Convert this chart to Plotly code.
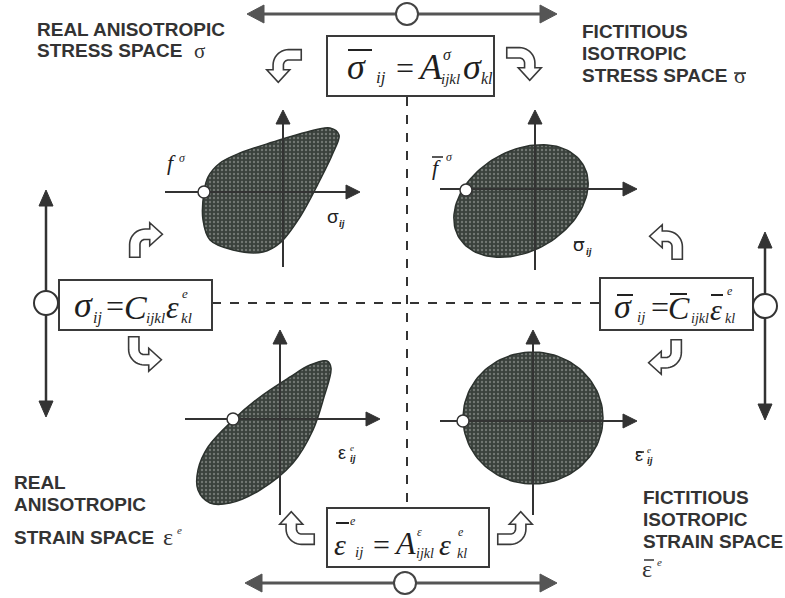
import numpy as np
import plotly.graph_objects as go

W, H = 785, 598

# ---------------- content ----------------
title_tl = ["REAL ANISOTROPIC", "STRESS SPACE"]
title_tr = ["FICTITIOUS", "ISOTROPIC", "STRESS SPACE"]
title_bl = ["REAL", "ANISOTROPIC", "STRAIN SPACE"]
title_br = ["FICTITIOUS", "ISOTROPIC", "STRAIN SPACE"]

# yield-surface outlines
blob_tl_x = [204, 208, 220, 240, 273, 307, 330, 339, 333, 320, 300, 280, 263, 233, 210, 203, 204]
blob_tl_y = [192, 177, 163, 153, 142, 132, 128, 135, 153, 180, 217, 243, 252, 250, 240, 220, 192]
blob_bl_x = [327, 331, 324, 313, 293, 260, 230, 210, 198, 198, 208, 233, 260, 290, 310, 327]
blob_bl_y = [361, 368, 397, 430, 463, 490, 503, 503, 490, 470, 447, 420, 397, 377, 365, 361]
ellipse_tr = dict(cx=521, cy=201, a=72, b=50, angle=30)
ellipse_br = dict(cx=533, cy=418, a=70, b=66, angle=0)

LINE = "#333333"
GRAY = "#555555"
SERIF = "Liberation Serif"
SANS = "Liberation Sans"

fig = go.Figure()
shapes = []
annos = []


def poly_path(pts):
    return "M " + " L ".join(f"{x:.2f},{y:.2f}" for x, y in pts) + " Z"


def tri(tip, direction, length, half, color):
    tx, ty = tip
    dx, dy = direction
    n = np.hypot(dx, dy)
    dx, dy = dx / n, dy / n
    bx, by = tx - dx * length, ty - dy * length
    px, py = -dy, dx
    pts = [(tx, ty), (bx + px * half, by + py * half), (bx - px * half, by - py * half)]
    shapes.append(dict(type="path", path=poly_path(pts), fillcolor=color,
                       line=dict(color=color, width=1), layer="above"))


def line(x0, y0, x1, y1, color=LINE, width=2, dash=None):
    d = dict(type="line", x0=x0, y0=y0, x1=x1, y1=y1,
             line=dict(color=color, width=width), layer="above")
    if dash:
        d["line"]["dash"] = dash
    shapes.append(d)


def circle(cx, cy, r, lw=2, color=LINE):
    shapes.append(dict(type="circle", x0=cx - r, x1=cx + r, y0=cy - r, y1=cy + r,
                       fillcolor="white", line=dict(color=color, width=lw), layer="above"))


def rect(x0, y0, x1, y1):
    shapes.append(dict(type="rect", x0=x0, y0=y0, x1=x1, y1=y1, fillcolor="white",
                       line=dict(color="#3a3a3a", width=2), layer="above"))


def txt(x, base, s, size, fam=SERIF, italic=False, bold=False, color="#1e1e1e", anchor="left"):
    if italic:
        s = f"<i>{s}</i>"
    if bold:
        s = f"<b>{s}</b>"
    annos.append(dict(x=x, y=base + 0.22 * size, text=s, showarrow=False, borderpad=0,
                      xanchor=anchor, yanchor="bottom", xref="x", yref="y",
                      font=dict(family=fam, size=size, color=color)))


def bent_arrow(cx, cy, m, scale=1.15):
    hw, r, L, s, h, ah = 4.5, 9, 20, 4, 10, 11
    pts = [(L, -hw), (r, -hw)]
    for t in np.linspace(-90, -180, 12):
        a = np.radians(t)
        pts.append((r + (r + hw) * np.cos(a), r + (r + hw) * np.sin(a)))
    pts += [(-hw, r + s), (-h, r + s), (0, r + s + ah), (h, r + s), (hw, r + s)]
    for t in np.linspace(-180, -90, 12):
        a = np.radians(t)
        pts.append((r + (r - hw) * np.cos(a), r + (r - hw) * np.sin(a)))
    pts.append((L, hw))
    P = np.array(pts) @ np.array(m).T * scale
    mid = (P.min(axis=0) + P.max(axis=0)) / 2
    P = P - mid + np.array([cx, cy])
    shapes.append(dict(type="path", path=poly_path(P), fillcolor="white",
                       line=dict(color="#3a3a3a", width=1.6), layer="above"))


# ---------------- yield surfaces ----------------
def ellipse_pts(cx, cy, a, b, angle):
    t = np.linspace(0, 2 * np.pi, 120)
    th = np.radians(angle)
    x = a * np.cos(t)
    y = b * np.sin(t)
    return cx + x * np.cos(th) + y * np.sin(th), cy - x * np.sin(th) + y * np.cos(th)


pattern = dict(shape=".", bgcolor="#3a413c", fgcolor="#a9aea9", size=4, solidity=0.28)
blobs = [
    (blob_tl_x, blob_tl_y, "spline"),
    (blob_bl_x, blob_bl_y, "spline"),
    (*ellipse_pts(**ellipse_tr), "linear"),
    (*ellipse_pts(**ellipse_br), "linear"),
]
for bx, by, shp in blobs:
    fig.add_trace(go.Scatter(x=list(bx), y=list(by), mode="lines", fill="toself",
                             line=dict(color="#2c322e", width=1.5, shape=shp),
                             fillcolor="#444b46", fillpattern=pattern,
                             hoverinfo="skip", showlegend=False))

# ---------------- quadrant axes ----------------
quad_axes = [
    # hx0, hx1, hy, vx, vy_bottom, vy_top
    (165, 360, 192, 283, 267, 110),
    (440, 637, 189, 535, 270, 110),
    (185, 380, 419, 280, 515, 330),
    (440, 637, 421, 533, 515, 330),
]
for hx0, hx1, hy, vx, vyb, vyt in quad_axes:
    line(hx0, hy, hx1 - 10, hy, width=2)
    tri((hx1, hy), (1, 0), 14, 7, LINE)
    line(vx, vyb, vx, vyt + 10, width=2)
    tri((vx, vyt), (0, -1), 14, 7, LINE)

circle(204, 192, 6, lw=1.5)
circle(466, 190, 6, lw=1.5)
circle(233, 419, 6, lw=1.5)
circle(463, 421, 6, lw=1.5)

# ---------------- big arrows ----------------
line(262, 14, 542, 14, color=GRAY, width=3)
tri((247, 14), (-1, 0), 17, 9, GRAY)
tri((557, 14), (1, 0), 17, 9, GRAY)
circle(407, 14, 11, lw=2, color="#444444")

line(260, 583, 542, 583, color=GRAY, width=3)
tri((245, 583), (-1, 0), 17, 9, GRAY)
tri((557, 583), (1, 0), 17, 9, GRAY)
circle(405, 583, 11, lw=2, color="#444444")

line(46, 204, 46, 403, color=LINE, width=2.5)
tri((46, 190), (0, -1), 16, 7, LINE)
tri((46, 417), (0, 1), 16, 7, LINE)

line(765, 246, 765, 406, color=LINE, width=2.5)
tri((765, 232), (0, -1), 16, 7, LINE)
tri((765, 420), (0, 1), 16, 7, LINE)

# ---------------- dashed guides ----------------
line(407, 97, 407, 508, width=2, dash="dash")
line(212, 303, 600, 303, width=2, dash="dash")

# ---------------- formula boxes ----------------
rect(327, 36, 494, 96)
rect(59, 280, 212, 330)
rect(600, 278, 753, 330)
rect(327, 508, 489, 567)
circle(46, 303, 12)
circle(765, 306, 12)

# ---------------- bent arrows ----------------
bent_arrow(284, 66, [[1, 0], [0, 1]])
bent_arrow(524, 64, [[-1, 0], [0, 1]])
bent_arrow(146, 240, [[0, 1], [1, 0]])
bent_arrow(145, 354, [[0, 1], [-1, 0]])
bent_arrow(666, 242, [[0, -1], [1, 0]])
bent_arrow(665, 357, [[0, -1], [-1, 0]])
bent_arrow(297, 528, [[1, 0], [0, -1]])
bent_arrow(515, 528, [[-1, 0], [0, -1]])

# ---------------- formulas ----------------
# top: sigma-bar_ij = A^sigma_ijkl sigma_kl
line(348, 50, 372, 50, color="#222", width=2)
txt(346, 80, "σ", 36, italic=True)
txt(375, 84, "ij", 17, italic=True)
txt(395, 80, "=", 32)
txt(417, 80, "A", 36, italic=True)
txt(442, 60, "σ", 16, italic=True)
txt(440, 85, "ijkl", 15, italic=True)
txt(462, 80, "σ", 36, italic=True)
txt(480, 84, "kl", 16, italic=True)

# left: sigma_ij = C_ijkl eps^e_kl
txt(73, 318, "σ", 36, italic=True)
txt(92, 324, "ij", 16, italic=True)
txt(105, 318, "=", 32)
txt(123, 320, "C", 34, italic=True)
txt(145, 324, "ijkl", 15, italic=True)
txt(165, 319, "ε", 32, italic=True)
txt(181, 299, "e", 13, italic=True)
txt(180, 324, "kl", 15, italic=True)

# right: sigma-bar_ij = C-bar_ijkl eps-bar^e_kl
line(617, 295, 633, 295, color="#222", width=2)
txt(613, 319, "σ", 34, italic=True)
txt(636, 323, "ij", 15, italic=True)
txt(650, 319, "=", 32)
line(670, 294, 687, 294, color="#222", width=2)
txt(667, 320, "C", 32, italic=True)
txt(690, 324, "ijkl", 14, italic=True)
line(711, 295, 723, 295, color="#222", width=2)
txt(709, 320, "ε", 30, italic=True)
txt(726, 296, "e", 12, italic=True)
txt(724, 324, "kl", 14, italic=True)

# bottom: eps-bar^e_ij = A^eps_ijkl eps^e_kl
line(336, 523, 349, 523, color="#222", width=2)
txt(349, 526, "e", 12, italic=True)
txt(333, 555, "ε", 30, italic=True)
txt(354, 558, "ij", 15, italic=True)
txt(372, 555, "=", 30)
txt(393, 555, "A", 32, italic=True)
txt(416, 537, "ε", 12, italic=True)
txt(415, 559, "ijkl", 14, italic=True)
txt(438, 555, "ε", 30, italic=True)
txt(457, 537, "e", 12, italic=True)
txt(456, 559, "kl", 14, italic=True)

# ---------------- axis labels ----------------
txt(166, 171, "f", 22, italic=True)
txt(178, 163, "σ", 12, italic=True)
line(432, 157, 443, 157, color="#222", width=1.5)
txt(431, 176, "f", 22, italic=True)
txt(445, 162, "σ", 12, italic=True)
txt(326, 224, "σ", 19, fam=SANS)
txt(338, 228, "ij", 10, italic=True, bold=True)
line(574, 242, 584, 242, color="#222", width=1.5)
txt(572, 252, "σ", 19, fam=SANS)
txt(585, 256, "ij", 10, italic=True, bold=True)
txt(337, 460, "ε", 18, fam=SANS)
txt(349, 452, "e", 9, italic=True)
txt(349, 463, "ij", 10, italic=True, bold=True)
line(636, 452, 644, 452, color="#222", width=1.5)
txt(634, 462, "ε", 18, fam=SANS)
txt(646, 454, "e", 9, italic=True)
txt(646, 465, "ij", 10, italic=True, bold=True)

# ---------------- region titles ----------------
TC = "#333333"
for i, s in enumerate(title_tl):
    txt(36, 37 + 21 * i, s, 19, fam=SANS, bold=True, color=TC)
txt(193, 59, "σ", 21, color=TC)
for i, s in enumerate(title_tr):
    txt(581, 39 + 22 * i, s, 19, fam=SANS, bold=True, color=TC)
line(734, 73, 746, 73, color=TC, width=1.5)
txt(733, 84, "σ", 22, color=TC)
for i, s in enumerate(title_bl):
    txt(13, 490 + 22 * (i if i < 2 else 2.5), s, 19, fam=SANS, bold=True, color=TC)
txt(162, 546, "ε", 24, color=TC)
txt(176, 535, "e", 11, italic=True, color=TC)
for i, s in enumerate(title_br):
    txt(642, 505 + 22 * i, s, 19, fam=SANS, bold=True, color=TC)
line(644, 560, 654, 560, color=TC, width=1.5)
txt(641, 578, "ε", 24, color=TC)
txt(656, 567, "e", 11, italic=True, color=TC)

fig.update_layout(
    width=W, height=H, margin=dict(l=0, r=0, t=0, b=0),
    paper_bgcolor="white", plot_bgcolor="white",
    xaxis=dict(range=[0, W], visible=False, fixedrange=True),
    yaxis=dict(range=[H, 0], visible=False, fixedrange=True),
    shapes=shapes, annotations=annos, showlegend=False,
)
fig.write_html("out.html", config={"displayModeBar": False},
               post_script="document.body.style.margin='0px';document.body.style.overflow='hidden';")
